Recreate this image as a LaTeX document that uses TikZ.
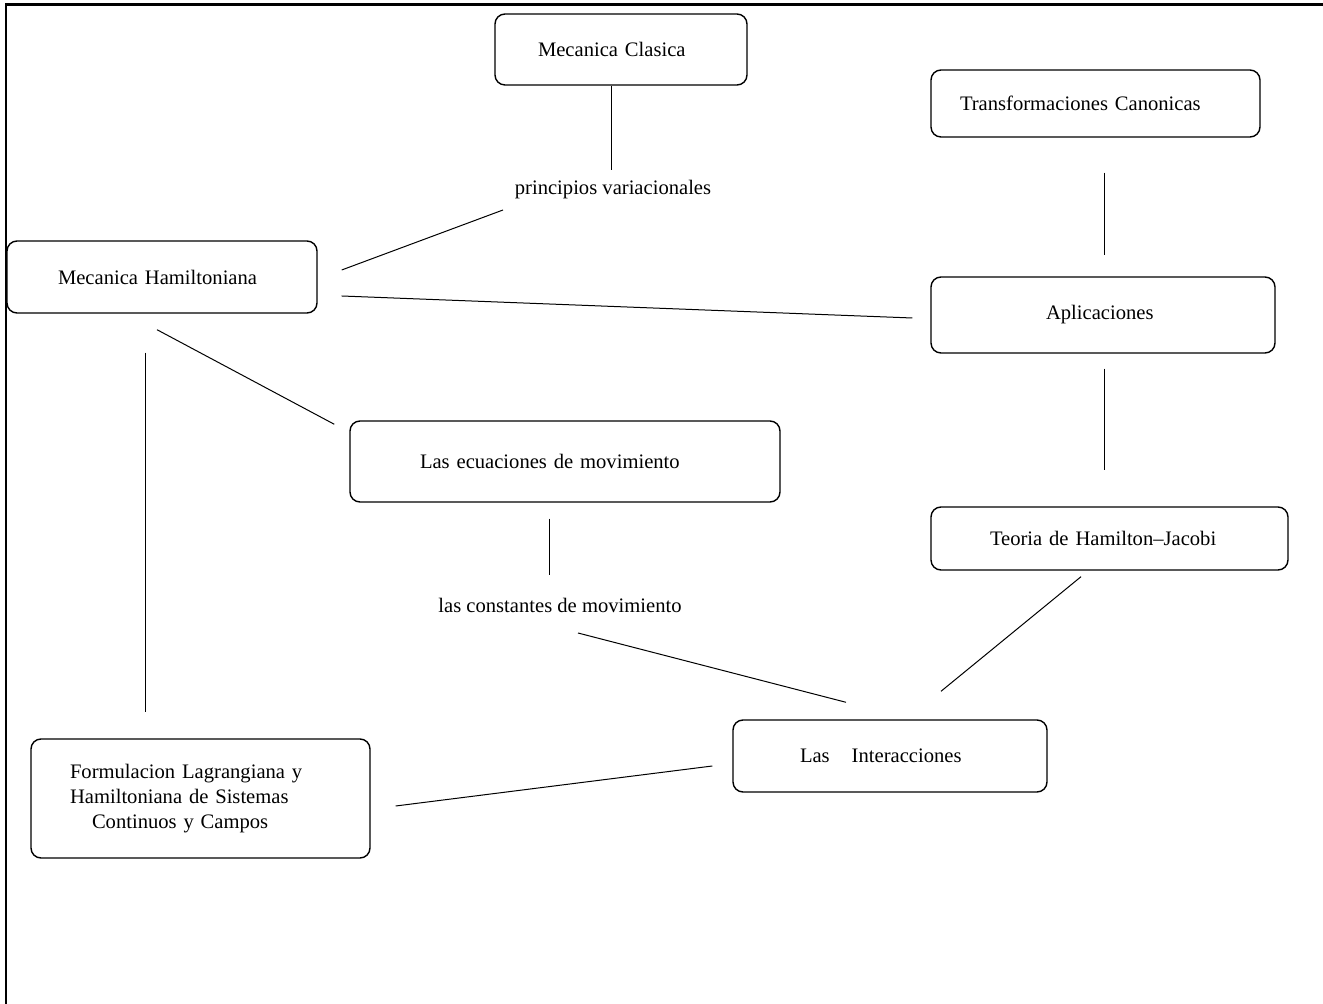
\documentclass[tikz,border=0pt]{standalone}
\usepackage{fontspec}
\setmainfont{Liberation Serif}
\usetikzlibrary{shapes,arrows}

\tikzset{
  concept/.style={draw,rounded corners=5pt,line width=0.7pt,align=left,
    font=\fontsize{10.3}{12.5}\selectfont},
  rel/.style={font=\fontsize{10.3}{12.5}\selectfont,inner sep=2pt},
  link/.style={line width=0.5pt}
}

\begin{document}
\begin{tikzpicture}[x=0.5pt,y=-0.5pt]
        \useasboundingbox (0,0) rectangle (1323,1004);
        % marco
        \draw[line width=1.5pt] (5,5) -- (1323,5);
        \draw[line width=0.7pt] (6,5) -- (6,860);
        \draw[line width=1.4pt] (6,860) -- (6,1004);
        \node[concept,text width=83pt,inner xsep=21.5pt,minimum height=35.5pt] at (621,49.5) (clasica) {\raisebox{-1.5pt}{Mecanica Clasica}};
        \node[concept,text width=135.5pt,inner xsep=14.5pt,minimum height=33.5pt] at (1095.5,103.5) (transf) {Transformaciones Canonicas};
        \node[concept,text width=104pt,inner xsep=25.5pt,minimum height=36pt] at (162,277) (hamil) {Mecanica Hamiltoniana};
        \node[concept,text width=57pt,inner xsep=57.5pt,minimum height=38pt] at (1103,315) (aplic) {Aplicaciones};
        \node[concept,text width=145pt,inner xsep=35pt,minimum height=40.5pt] at (565,461.5) (ecuac) {Las ecuaciones de movimiento};
        \node[concept,text width=119.5pt,inner xsep=29.5pt,minimum height=31.5pt] at (1109.5,538.5) (teoria) {Teoria de Hamilton--Jacobi};
        \node[concept,text width=90pt,inner xsep=33.5pt,minimum height=36pt] at (890,756) (inter) {Las\hspace{11pt}Interacciones};
        \node[concept,text width=130.5pt,inner xsep=19.5pt,minimum height=59.5pt] at (200.5,798.5) (formul)
          {Formulacion Lagrangiana y\\Hamiltoniana de Sistemas\\\hspace*{11pt}Continuos y Campos};
        \node[rel] at (613,190) (princ) {principios variacionales};
        \node[rel] at (560,605) (const) {las constantes de movimiento};
        \draw[link] ([shift={(-10,0)}]clasica.south) -- ([shift={(-2,-20)}]princ.center);
        \draw[link] ([shift={(-110,20)}]princ.center) -- ([shift={(24,-7)}]hamil.east);
        \draw[link] ([shift={(24,19)}]hamil.east) -- ([shift={(-18,3)}]aplic.west);
        \draw[link] ([shift={(-5,16)}]hamil.south) -- ([shift={(-15,4)}]ecuac.north west);
        \draw[link] ([shift={(-17,39)}]hamil.south) -- ([shift={(-55.5,-26)}]formul.north);
        \draw[link] ([shift={(8.5,35)}]transf.south) -- ([shift={(1,-21)}]aplic.north);
        \draw[link] ([shift={(1,15)}]aplic.south) -- ([shift={(-5.5,-36)}]teoria.north);
        \draw[link] ([shift={(-16,16)}]ecuac.south) -- ([shift={(-11,-30)}]const.center);
        \draw[link] ([shift={(18,28)}]const.center) -- ([shift={(-44,-17)}]inter.north);
        \draw[link] ([shift={(-28.5,6)}]teoria.south) -- ([shift={(51,-28)}]inter.north);
        \draw[link] ([shift={(-20,10)}]inter.west) -- ([shift={(25,7.5)}]formul.east);
        \end{tikzpicture}
\end{document}
